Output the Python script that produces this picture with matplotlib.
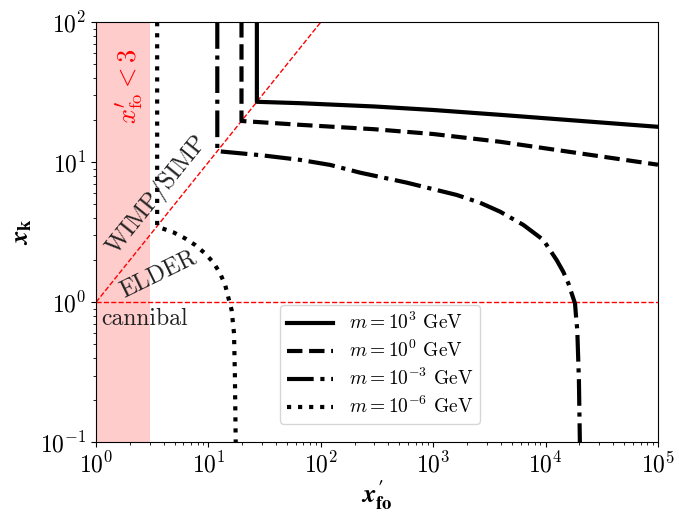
import matplotlib
matplotlib.use("Agg")
import matplotlib.pyplot as plt

plt.rcParams["font.family"] = "serif"
plt.rcParams["font.serif"] = ["cmr10", "DejaVu Serif"]
plt.rcParams["mathtext.fontset"] = "cm"
plt.rcParams["axes.unicode_minus"] = False
plt.rcParams["axes.formatter.use_mathtext"] = True
# 軸ラベル用（太字イタリック）
plt.rcParams["mathtext.it"] = "STIXGeneral:style=italic:weight=bold"
plt.rcParams["mathtext.rm"] = "STIXGeneral:weight=bold"
plt.rcParams["mathtext.bf"] = "STIXGeneral:weight=bold"

# curve values (x'_fo, x_k)
x_m3 = [27, 27, 65, 300, 1000, 3930, 100000]
y_m3 = [100, 27, 26.4, 25.0, 23.6, 21.8, 17.9]

x_m0 = [19.7, 19.7, 65, 300, 1000, 3930, 100000]
y_m0 = [100, 19.7, 18.5, 17.2, 15.9, 14.0, 9.6]

x_mm3 = [12, 12, 30, 65, 121, 223, 581, 1618, 2610, 3930, 6340, 9540,
         12560, 14380, 15930, 18290, 18630, 19150, 19800, 20200]
y_mm3 = [100, 12, 11.2, 10.4, 9.57, 8.43, 7.15, 5.84, 5.14, 4.44, 3.57, 2.79,
         2.0, 1.65, 1.37, 0.98, 0.81, 0.634, 0.279, 0.1]

x_mm6 = [3.5, 3.5, 3.84, 4.88, 6.2, 7.6, 9.3, 11.1, 12.7, 14.1, 15.0, 16.1, 16.9, 17.2, 17.5]
y_mm6 = [100, 3.5, 3.38, 3.16, 2.86, 2.57, 2.24, 1.92, 1.61, 1.33, 1.09, 0.88, 0.60, 0.31, 0.1]

labels = [r"$m = 10^{3}$ GeV", r"$m = 10^{0}$ GeV",
          r"$m = 10^{-3}$ GeV", r"$m = 10^{-6}$ GeV"]

fig = plt.figure(figsize=(6.79, 5.15), dpi=100)
ax = fig.add_axes([0.1414, 0.141, 0.8276, 0.816])

# 禁止領域と境界線
ax.axvspan(1, 3, color="red", alpha=0.2, lw=0)
ax.plot([1, 100], [1, 100], color="red", ls="--", lw=1)
ax.plot([1, 1e5], [1, 1], color="red", ls="--", lw=1)

ax.plot(x_m3, y_m3, color="black", ls="-", lw=3, label=labels[0])
ax.plot(x_m0, y_m0, color="black", ls="--", lw=3, label=labels[1])
ax.plot(x_mm3, y_mm3, color="black", ls="-.", lw=3, label=labels[2])
ax.plot(x_mm6, y_mm6, color="black", ls=":", lw=3, label=labels[3])

ax.set_xscale("log")
ax.set_yscale("log")
ax.set_xlim(1, 1e5)
ax.set_ylim(0.1, 100)

ax.text(3.5, 5.9, "WIMP/SIMP", rotation=51, fontsize=17.5, color="#222222",
        ha="center", va="center")
ax.text(3.6, 1.6, "ELDER", rotation=26, fontsize=17, color="#222222",
        ha="center", va="center")
ax.text(1.12, 0.76, "cannibal", fontsize=17, color="#222222",
        ha="left", va="center")
ax.text(2.0, 35, r"$x_{\rm fo}^{\prime} < 3$", rotation=90, fontsize=19,
        color="red", ha="center", va="center")

ax.set_xlabel(r"$x_{\mathrm{fo}}^{\prime}$", fontsize=19, labelpad=1,
              math_fontfamily="custom")
ax.set_ylabel(r"$x_{\mathrm{k}}$", fontsize=19, math_fontfamily="custom")
ax.tick_params(labelsize=17)

ax.legend(loc="lower left", bbox_to_anchor=(0.31, 0.02), fontsize=14,
          handlelength=2.4, labelspacing=0.35, borderpad=0.35)

fig.savefig("out.png", dpi=100)
